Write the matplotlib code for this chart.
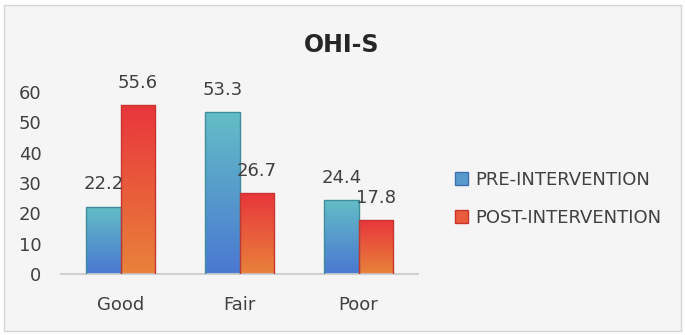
import matplotlib.pyplot as plt
import numpy as np
from matplotlib.colors import LinearSegmentedColormap
from matplotlib.patches import Rectangle, Patch

# donnees
categories = ["Good", "Fair", "Poor"]
pre_values = [22.2, 53.3, 24.4]
post_values = [55.6, 26.7, 17.8]
series_names = ["PRE-INTERVENTION", "POST-INTERVENTION"]

# couleurs des degradés (bas -> haut)
pre_cmap = LinearSegmentedColormap.from_list("pre", ["#4A78D2", "#63BEC6"])
post_cmap = LinearSegmentedColormap.from_list("post", ["#E8823A", "#E8363C"])

plt.rcParams['font.family'] = ['DejaVu Sans']
texte = "#404040"

fig = plt.figure(figsize=(6.85, 3.35), dpi=100, facecolor="white")
fond = Rectangle((4 / 685, 4 / 335), 677 / 685, 326 / 335, transform=fig.transFigure,
                 facecolor="#F5F5F5", edgecolor="#D4D4D4", linewidth=1, zorder=-10)
fig.patches.append(fond)

ax = fig.add_axes([61 / 685, 1 - 274 / 335, 357 / 685, 182 / 335])
ax.set_facecolor("none")

x = np.arange(len(categories))
w = 0.286
grad = np.linspace(0, 1, 256).reshape(-1, 1)

def barres_degrade(positions, valeurs, cmap, bord):
    barres = ax.bar(positions, valeurs, w, color="none", edgecolor=bord, linewidth=1, zorder=3)
    for b in barres:
        x0, y0 = b.get_x(), b.get_y()
        im = ax.imshow(grad, cmap=cmap, origin="lower", aspect="auto",
                       extent=[x0, x0 + b.get_width(), y0, y0 + b.get_height()], zorder=2)
        im.set_clip_path(b)
        ax.annotate(f"{b.get_height():.1f}", (x0 + b.get_width() / 2, b.get_height()),
                    xytext=(0, 16), textcoords="offset points", ha="center", va="center",
                    fontsize=13, color=texte, annotation_clip=False, zorder=5)
    return barres

barres_degrade(x - w / 2, pre_values, pre_cmap, "#3F8C9C")
barres_degrade(x + w / 2, post_values, post_cmap, "#C8352E")

ax.set_xlim(-0.5, len(categories) - 0.5)
ax.set_ylim(0, 60)
ax.set_yticks(range(0, 61, 10))
ax.set_xticks(x)
ax.set_xticklabels(categories)
ax.tick_params(axis="both", length=0, labelsize=13, labelcolor=texte)
ax.tick_params(axis="x", pad=16)
ax.tick_params(axis="y", pad=14)
for s in ["top", "right", "left"]:
    ax.spines[s].set_visible(False)
ax.spines["bottom"].set_color("#D0D0D0")
ax.spines["bottom"].set_linewidth(1.5)

fig.text(342 / 685, 1 - 45 / 335, "OHI-S", ha="center", va="center",
         fontsize=17, fontweight="bold", color="#262626")

poignees = [Patch(facecolor=pre_cmap(0.5), edgecolor="#3F6FB0"),
            Patch(facecolor=post_cmap(0.5), edgecolor="#C8352E")]
leg = fig.legend(poignees, series_names, loc="center left",
                 bbox_to_anchor=(439 / 685, 1 - 199 / 335), frameon=False,
                 fontsize=13, handlelength=0.7, handleheight=0.7, handletextpad=0.4,
                 labelspacing=1.1, labelcolor=texte)

fig.savefig("out.png", dpi=100, facecolor="white")
